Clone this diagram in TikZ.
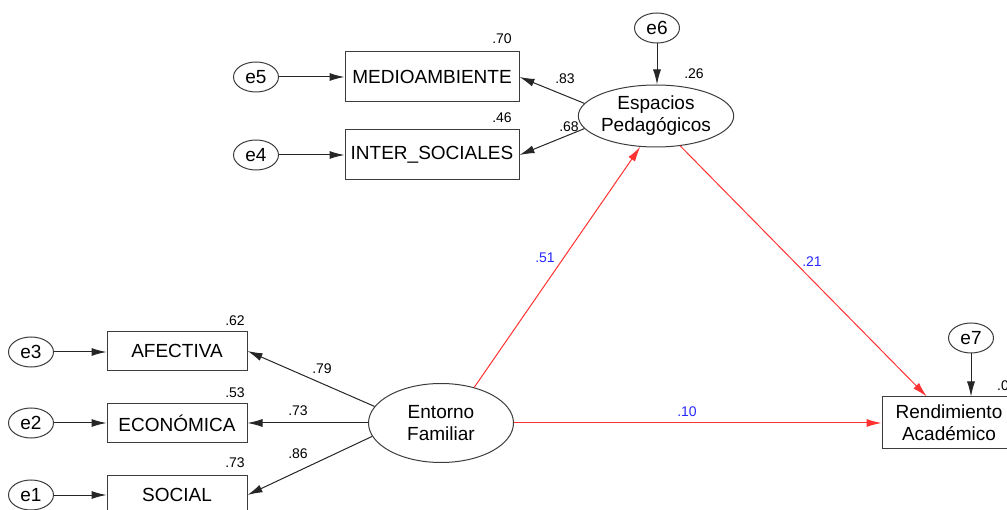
\documentclass[tikz,border=0pt]{standalone}
\usepackage{fontspec}
\setmainfont{Liberation Sans}
\usetikzlibrary{arrows.meta,shapes.geometric,calc}
\definecolor{edge}{RGB}{60,60,60}
\definecolor{pathred}{RGB}{255,50,50}
\definecolor{lblblue}{RGB}{40,40,255}
\tikzset{
  obs/.style={draw=edge,line width=1pt,rectangle,inner sep=0pt,font=\fontsize{19}{22}\selectfont,align=center},
  lat/.style={draw=edge,line width=1pt,ellipse,inner sep=0pt,font=\fontsize{19}{22}\selectfont,align=center},
  err/.style={draw=edge,line width=1pt,ellipse,inner sep=0pt,minimum width=45pt,minimum height=30pt,font=\fontsize{19}{22}\selectfont},
  arr/.style={draw=black!85,line width=1pt,-{Latex[length=15pt,width=8pt]}},
  rarr/.style={draw=pathred,line width=1pt,-{Latex[length=15pt,width=8pt]}},
  num/.style={inner sep=0pt,font=\fontsize{14}{16}\selectfont},
  bnum/.style={num,text=lblblue}
}
\begin{document}
\begin{tikzpicture}[x=1pt,y=-1pt]
\useasboundingbox (0,0) rectangle (1007,510);
\clip (0,0) rectangle (1007,510);
\fill[white] (0,0) rectangle (1007,510);
% observed boxes
\node[obs,minimum width=174pt,minimum height=50pt] (med) at (432,77) {MEDIOAMBIENTE};
\node[obs,minimum width=174pt,minimum height=50pt] (int) at (432,155) {INTER\_SOCIALES};
\node[obs,minimum width=140pt,minimum height=39pt] (afe) at (177,351) {AFECTIVA};
\node[obs,minimum width=140pt,minimum height=39pt] (eco) at (177,423) {ECONÓMICA};
\node[obs,minimum width=140pt,minimum height=39pt] (soc) at (177,495) {SOCIAL};
\node[obs,minimum width=134pt,minimum height=52pt] (ren) at (949,423) {Rendimiento\\Académico};
% latent
\node[lat,minimum width=147pt,minimum height=62pt] (esp) at (656,116) {Espacios\\Pedagógicos};
\node[lat,minimum width=145pt,minimum height=79pt] (ent) at (441,423) {Entorno\\Familiar};
% errors
\node[err] (e5) at (256,77) {e5};
\node[err] (e4) at (256,155) {e4};
\node[err] (e6) at (657,28) {e6};
\node[err] (e7) at (971,338) {e7};
\node[err] (e3) at (31,352) {e3};
\node[err] (e2) at (31,423) {e2};
\node[err] (e1) at (31,495) {e1};
% error arrows
\draw[arr] (e5.east) -- (med.west);
\draw[arr] (e4.east) -- (int.west);
\draw[arr] (e3.east) -- (e3.east -| afe.west);
\draw[arr] (e2.east) -- (e2.east -| eco.west);
\draw[arr] (e1.east) -- (e1.east -| soc.west);
\draw[arr] (e6.south) -- (e6.south |- esp.north);
\draw[arr] (e7.south) -- (e7.south |- ren.north);
% loadings
\draw[arr] (esp.170) -- (med.east);
\draw[arr] (esp.190) -- (int.east);
\draw[arr] (ent.166) -- (afe.east);
\draw[arr] (ent.west) -- (eco.east);
\draw[arr] (ent.191) -- (soc.east);
% structural paths
\draw[rarr] (ent.47) -- (esp.243);
\draw[rarr] (esp.309) -- (ren.130);
\draw[rarr] (ent.east) -- (ren.west);
% numbers
\node[num] (n70) at (502,39) {.70};
\node[num] (n46) at (502,118) {.46};
\node[num] (n83) at (565,79) {.83};
\node[num] (n68) at (569,127) {.68};
\node[num] (n26) at (694,74) {.26};
\node[num] (n62) at (235,321) {.62};
\node[num] (n53) at (235,393) {.53};
\node[num] (n73a) at (235,463) {.73};
\node[num] (n79) at (322,369) {.79};
\node[num] (n73b) at (298,411) {.73};
\node[num] (n86) at (298,454) {.86};
\node[num,anchor=west] (n0x) at (997,386) {.0};
\node[bnum] (n51) at (545,258) {.51};
\node[bnum] (n21) at (812,262) {.21};
\node[bnum] (n10) at (687,412) {.10};
\end{tikzpicture}
\end{document}
